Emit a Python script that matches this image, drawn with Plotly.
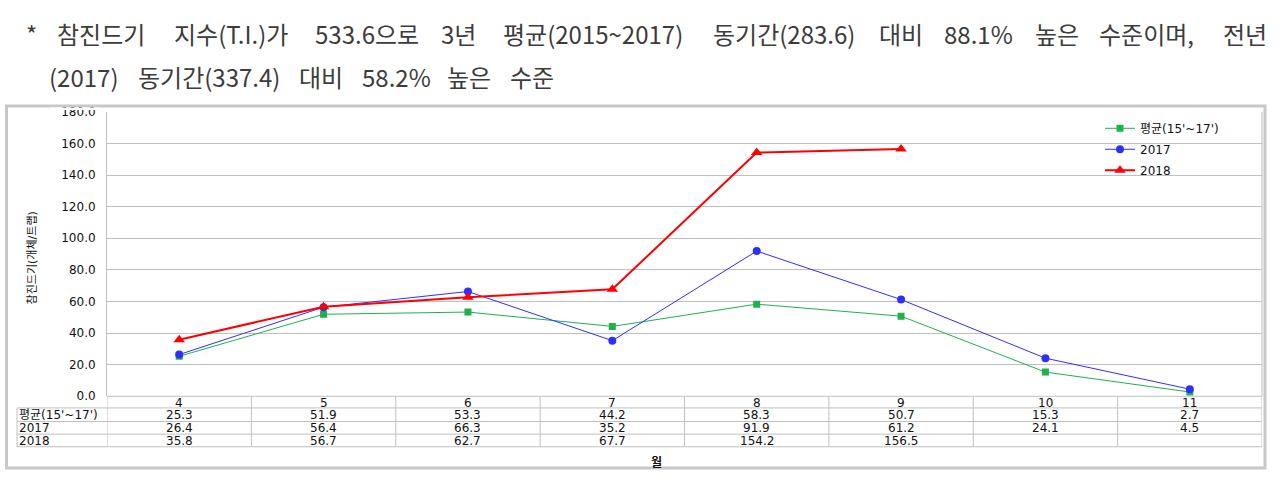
import plotly.graph_objects as go

# ---------------- data ----------------
months = [4, 5, 6, 7, 8, 9, 10, 11]
month_labels = ["4", "5", "6", "7", "8", "9", "10", "11"]
series_names = ["평균(15'~17')", "2017", "2018"]
avg_vals = [25.3, 51.9, 53.3, 44.2, 58.3, 50.7, 15.3, 2.7]
y2017_vals = [26.4, 56.4, 66.3, 35.2, 91.9, 61.2, 24.1, 4.5]
y2018_vals = [35.8, 56.7, 62.7, 67.7, 154.2, 156.5, None, None]
y_ticks = [0, 20, 40, 60, 80, 100, 120, 140, 160, 180]

header_line1 = ["*", "참진드기", "지수(T.I.)가", "533.6으로", "3년", "평균(2015~2017)",
                "동기간(283.6)", "대비", "88.1%", "높은", "수준이며,", "전년"]
header_line2 = ["(2017)", "동기간(337.4)", "대비", "58.2%", "높은", "수준"]
y_title = "참진드기(개체/트랩)"
x_title = "월"

# ---------------- layout helpers ----------------
W, H = 1279, 479
def px(x):
    return x / W
def py(y):
    return 1 - y / H

header_x1 = [31, 101, 231, 367, 458, 593, 784, 901, 978, 1057, 1146, 1245]
header_x2 = [84, 209, 321, 396, 469, 532]

PLOT_L, PLOT_R, PLOT_T, PLOT_B = 107, 1262, 108, 401
GRID = "#c0c0c0"
FONT = "DejaVu Sans, Noto Sans CJK KR, sans-serif"
HFONT = "Noto Sans CJK KR, sans-serif"
FS = 12

colors = ["#22b04c", "#2e2eff", "#ff0000"]
symbols = ["square", "circle", "triangle-up"]
msizes = [7, 8, 10]
lwidths = [1, 1, 2]
all_vals = [avg_vals, y2017_vals, y2018_vals]

fig = go.Figure()
for name, vals, c, s, ms, lw in zip(series_names, all_vals, colors, symbols, msizes, lwidths):
    fig.add_trace(go.Scatter(
        x=months, y=vals, name=name, mode="lines+markers",
        line=dict(color=c, width=lw),
        marker=dict(color=c, symbol=s, size=ms, line=dict(width=0)),
        connectgaps=False, legendgroup=name,
    ))

annotations = []
# header
for w, x in zip(header_line1, header_x1):
    annotations.append(dict(text=w, x=px(x), y=py(27), xref="paper", yref="paper",
                            xanchor="center", yanchor="middle", showarrow=False,
                            font=dict(family=HFONT, size=24, color="#3c3c3c")))
for w, x in zip(header_line2, header_x2):
    annotations.append(dict(text=w, x=px(x), y=py(72), xref="paper", yref="paper",
                            xanchor="center", yanchor="middle", showarrow=False,
                            font=dict(family=HFONT, size=24, color="#3c3c3c")))

# y axis title
annotations.append(dict(text=y_title, x=px(32), y=py(259), xref="paper", yref="paper",
                        textangle=-90, showarrow=False, xanchor="center", yanchor="middle",
                        font=dict(family=FONT, size=11, color="#111")))
# x axis title
annotations.append(dict(text="<b>" + x_title + "</b>", x=px(656), y=py(469), xref="paper", yref="paper",
                        showarrow=False, xanchor="center", yanchor="middle",
                        font=dict(family=FONT, size=12, color="#111")))

# data table
row_edges = [401, 413, 427, 440, 453]
row_centers = [(row_edges[i] + row_edges[i + 1]) / 2 + 0.5 for i in range(4)]
for m, lab in zip(months, month_labels):
    annotations.append(dict(text=lab, x=m, y=py(row_centers[0]), xref="x", yref="paper",
                            showarrow=False, xanchor="center", yanchor="middle",
                            font=dict(family=FONT, size=FS, color="#111")))
for r, (name, vals) in enumerate(zip(series_names, all_vals)):
    yc = py(row_centers[r + 1])
    annotations.append(dict(text=name, x=px(17), y=yc, xref="paper", yref="paper",
                            showarrow=False, xanchor="left", yanchor="middle",
                            font=dict(family=FONT, size=FS, color="#111")))
    for m, v in zip(months, vals):
        if v is None:
            continue
        annotations.append(dict(text=f"{v:.1f}", x=m, y=yc, xref="x", yref="paper",
                                showarrow=False, xanchor="center", yanchor="middle",
                                font=dict(family=FONT, size=FS, color="#111")))

shapes = []
# outer frame
shapes.append(dict(type="rect", xref="paper", yref="paper", x0=px(6.5), x1=px(1265), y0=py(102), y1=py(475),
                   line=dict(color="#c8c8c8", width=3), fillcolor="rgba(0,0,0,0)", layer="below"))
# table horizontal lines
for i, yy in enumerate(row_edges):
    x0 = PLOT_L if i == 0 else 17
    shapes.append(dict(type="line", xref="paper", yref="paper", x0=px(x0), x1=px(PLOT_R),
                       y0=py(yy), y1=py(yy), line=dict(color=GRID, width=1)))
# table vertical lines (category boundaries)
for b in [m - 0.5 for m in months] + [months[-1] + 0.5]:
    shapes.append(dict(type="line", xref="x", yref="paper", x0=b, x1=b,
                       y0=py(401), y1=py(453), line=dict(color=GRID, width=1)))
shapes.append(dict(type="line", xref="paper", yref="paper", x0=px(17), x1=px(17),
                   y0=py(413), y1=py(453), line=dict(color=GRID, width=1)))
# right plot edge
shapes.append(dict(type="line", xref="paper", yref="paper", x0=px(PLOT_R), x1=px(PLOT_R),
                   y0=py(PLOT_T), y1=py(PLOT_B), line=dict(color=GRID, width=1), layer="below"))
# the top of the chart picture is cropped just above the "180.0" label
shapes.append(dict(type="rect", xref="paper", yref="paper", x0=px(50), x1=px(100), y0=py(103.6), y1=py(106),
                   line=dict(width=0), fillcolor="white", layer="above"))

fig.update_layout(
    width=W, height=H, autosize=False,
    margin=dict(l=0, r=0, t=0, b=0),
    paper_bgcolor="white", plot_bgcolor="white",
    font=dict(family=FONT, size=FS, color="#111"),
    xaxis=dict(domain=[px(PLOT_L), px(PLOT_R)], range=[3.5, 11.5], showgrid=False,
               zeroline=False, showticklabels=False, ticks="", showline=False, fixedrange=True),
    yaxis=dict(domain=[py(PLOT_B), py(PLOT_T)], range=[0, 180], tickvals=y_ticks,
               ticktext=[f"{v:.1f}" for v in y_ticks], showgrid=True, gridcolor=GRID, gridwidth=1,
               zeroline=False, showline=True, linecolor=GRID, linewidth=1,
               ticks="outside", ticklen=8, tickcolor="rgba(0,0,0,0)",
               tickfont=dict(family=FONT, size=FS, color="#111")),
    showlegend=True,
    legend=dict(x=px(1100), y=py(110), xanchor="left", yanchor="top",
                bgcolor="rgba(0,0,0,0)", borderwidth=0, tracegroupgap=2,
                font=dict(family=FONT, size=FS, color="#111")),
    annotations=annotations, shapes=shapes,
)

fig.write_html("out.html")
